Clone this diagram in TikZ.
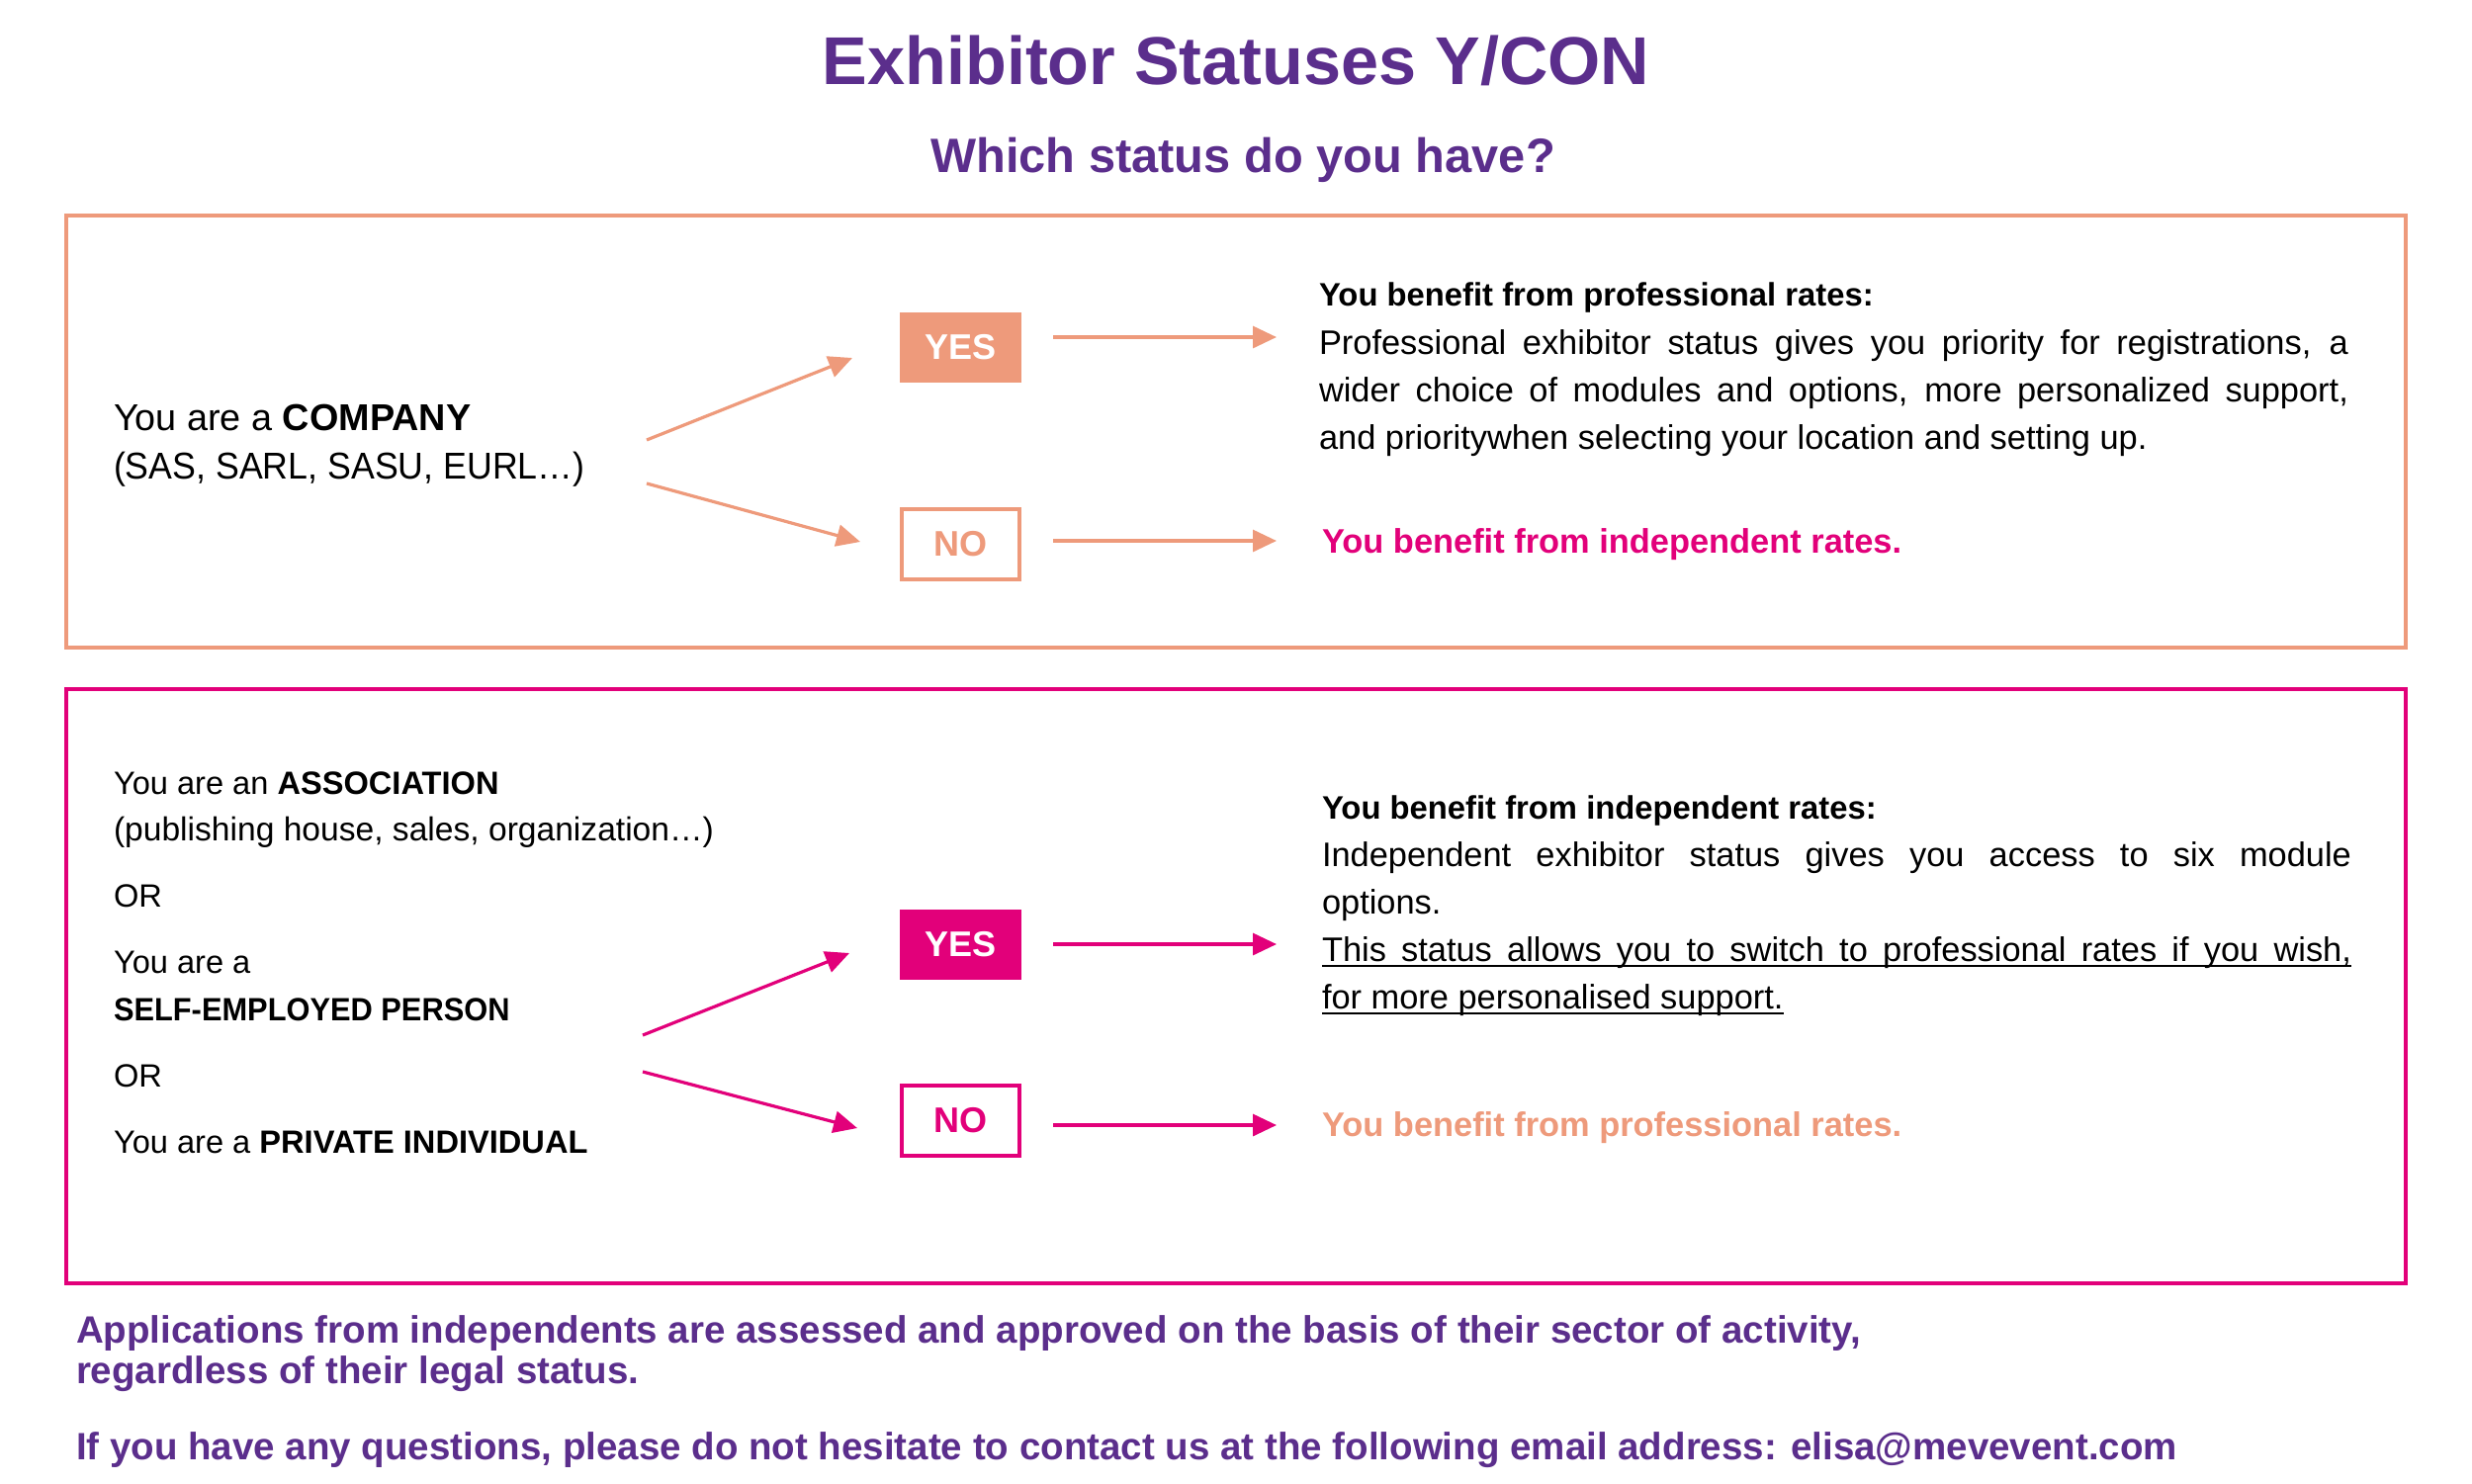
\documentclass[tikz,border=0pt]{standalone}
\usepackage{fontspec}
\setmainfont{Liberation Sans}
\newfontfamily\narrowfont{Liberation Sans}[FakeStretch=0.945]
\usetikzlibrary{arrows.meta}
\definecolor{purp}{HTML}{5B2E8C}
\definecolor{pinkc}{HTML}{E2007A}
\definecolor{orng}{HTML}{EE9A7B}
\newcommand\ulx[1]{\setbox0\hbox{#1}\rlap{\rule[-0.17em]{\wd0}{0.065em}}\box0}
\newcommand\fs[1]{\fontsize{#1}{1.2\dimexpr #1\relax}\selectfont}
\begin{document}
\begin{tikzpicture}[x=0.5pt,y=-0.5pt,
  txt/.style={anchor=base west, inner sep=0pt, outer sep=0pt},
  lefta/.style={txt, font=\fs{18.9pt}},
  leftb/.style={txt, font=\fs{16.3pt}},
  rtxt/.style={txt, font=\fs{17.2pt}},
  rbold/.style={txt, font=\fs{17.2pt}\bfseries},
  rhead/.style={txt, font=\fs{16.4pt}\bfseries},
  foot/.style={txt, font=\fs{19.25pt}\bfseries, text=purp},
  arr/.style={line width=1.6pt, -{Triangle[length=12pt,width=11pt]}},
  frame/.style={line width=2.2pt},
  yesbox/.style={minimum width=61.5pt, minimum height=35.5pt, inner sep=0pt, font=\fs{18pt}\bfseries, text=white},
  nobox/.style={minimum width=59.5pt, minimum height=35.5pt, inner sep=0pt, font=\fs{18pt}\bfseries, line width=2pt, fill=white},
]
\useasboundingbox (0,0) rectangle (2500,1500);
\fill[white] (0,0) rectangle (2500,1500);

% title
\node[anchor=base, inner sep=0pt, font=\fs{34.2pt}\bfseries, text=purp] (title) at (1250,85) {Exhibitor Statuses Y/CON};
\node[anchor=base, inner sep=0pt, font=\fs{24.4pt}\bfseries, text=purp] (subtitle) at (1257,174) {Which status do you have?};

% frames
\node[frame, draw=orng, inner sep=0pt, minimum width=1183pt, minimum height=218.5pt] (frameA) at (1250,436.5) {};
\node[frame, draw=pinkc, inner sep=0pt, minimum width=1183pt, minimum height=300.5pt] (frameB) at (1250,997.5) {};

% ---- box A
\node[lefta] (compA) at (115,435) {You are a \textbf{COMPANY}};
\node[lefta, font=\fs{18.9pt}\narrowfont] (compB) at (115,484) {(SAS, SARL, SASU, EURL…)};

\node[yesbox, fill=orng] (yesA) at (971.5,351.5) {YES};
\node[nobox, draw=orng, text=orng] (noA) at (971.5,550.5) {NO};

\coordinate (dA1s) at (654,445); \coordinate (dA1e) at (862,362);
\coordinate (dA2s) at (654,489); \coordinate (dA2e) at (870,548);
\coordinate (hA1s) at (1065,341); \coordinate (hA1e) at (1291,341);
\coordinate (hA2s) at (1065,547); \coordinate (hA2e) at (1291,547);
\draw[arr, orng] (dA1s) -- (dA1e);
\draw[arr, orng] (dA2s) -- (dA2e);
\draw[arr, orng] (hA1s) -- (hA1e);
\draw[arr, orng] (hA2s) -- (hA2e);

\node[rhead] (proH) at (1334,309) {You benefit from professional rates:};
\node[rtxt] (proL1) at (1334,358) {\makebox[520.5pt][s]{Professional exhibitor status gives you priority for registrations, a}};
\node[rtxt] (proL2) at (1334,406) {\makebox[520.5pt][s]{wider choice of modules and options, more personalized support,}};
\node[rtxt] (proL3) at (1334,454) {and prioritywhen selecting your location and setting up.};
\node[rbold, text=pinkc] (indA) at (1337,559) {You benefit from independent rates.};

% ---- box B
\node[leftb] (assoc1) at (115,803) {You are an \textbf{ASSOCIATION}};
\node[leftb, font=\fs{16.8pt}] (assoc2) at (115,850) {(publishing house, sales, organization…)};
\node[leftb] (or1) at (115,917) {OR};
\node[leftb] (self1) at (115,984) {You are a};
\node[leftb, font=\fs{16.3pt}\narrowfont] (self2) at (115,1032) {\textbf{SELF-EMPLOYED PERSON}};
\node[leftb] (or2) at (115,1099) {OR};
\node[leftb] (priv) at (115,1166) {You are a \textbf{PRIVATE INDIVIDUAL}};

\node[yesbox, fill=pinkc] (yesB) at (971.5,955) {YES};
\node[nobox, draw=pinkc, text=pinkc] (noB) at (971.5,1133.5) {NO};

\coordinate (dB1s) at (650,1047); \coordinate (dB1e) at (859,964);
\coordinate (dB2s) at (650,1084); \coordinate (dB2e) at (867,1141);
\coordinate (hB1s) at (1065,955); \coordinate (hB1e) at (1291,955);
\coordinate (hB2s) at (1065,1138); \coordinate (hB2e) at (1291,1138);
\draw[arr, pinkc] (dB1s) -- (dB1e);
\draw[arr, pinkc] (dB2s) -- (dB2e);
\draw[arr, pinkc] (hB1s) -- (hB1e);
\draw[arr, pinkc] (hB2s) -- (hB2e);

\node[rhead] (indH) at (1337,828) {You benefit from independent rates:};
\node[rtxt] (indL1) at (1337,876) {\makebox[520.5pt][s]{Independent exhibitor status gives you access to six module}};
\node[rtxt] (indL2) at (1337,924) {options.};
\node[rtxt] (indL3) at (1337,972) {\ulx{\makebox[520.5pt][s]{This status allows you to switch to professional rates if you wish,}}};
\node[rtxt] (indL4) at (1337,1020) {\ulx{for more personalised support.}};
\node[rbold, text=orng] (proB) at (1337,1149) {You benefit from professional rates.};

% ---- footer
\node[foot] (foot1) at (77,1358) {Applications from independents are assessed and approved on the basis of their sector of activity,};
\node[foot] (foot2) at (77,1399) {regardless of their legal status.};
\node[foot] (foot3) at (77,1476) {If you have any questions, please do not hesitate to contact us at the following email address: elisa@mevevent.com};
\end{tikzpicture}
\end{document}
